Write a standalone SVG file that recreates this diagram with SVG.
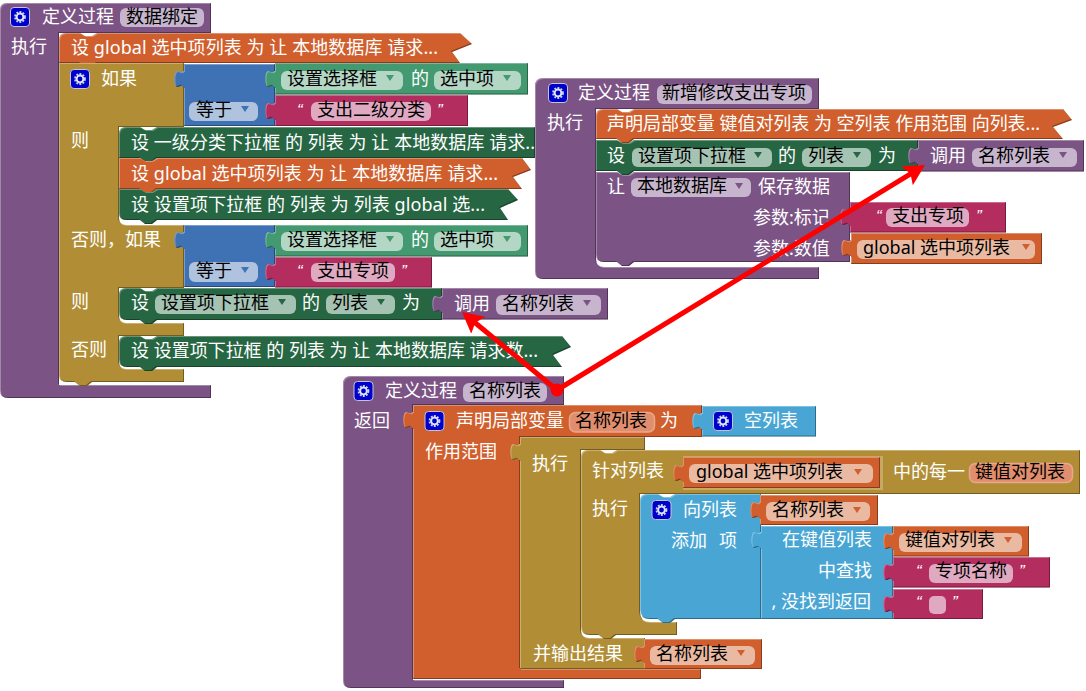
<svg xmlns="http://www.w3.org/2000/svg" xmlns:xlink="http://www.w3.org/1999/xlink" width="1086" height="691" viewBox="0 0 1086 691">
<style>
text{font-family:"Noto Sans","Noto Sans CJK SC",sans-serif;font-size:18px;fill:#fff}
.k{fill:#000}
.q{font-family:"Liberation Sans",sans-serif;font-style:italic;font-size:17px}
.b{filter:url(#bv)}
.pu{fill:#7c5385}.or{fill:#d05f2d}.go{fill:#b18e35}.gn{fill:#266643}.lg{fill:#439970}.bl{fill:#3f71b5}.lb{fill:#49a6d4}.mg{fill:#b32d5e}
.fpu{fill:#c6b5cc}.fgn{fill:#a5c3b2}.flg{fill:#b4d6c5}.for{fill:#e9b9a2}.fmg{fill:#dfa9c1}.fbl{fill:#afc2de}
.fnm{fill:#e08e6d;stroke:#e9a88c;stroke-width:1.5}
.ar{stroke:#f00;stroke-width:5;fill:none}
</style>
<defs>
<filter id="bv" color-interpolation-filters="sRGB" x="-3%" y="-5%" width="106%" height="110%">
<feOffset in="SourceAlpha" dx="1" dy="1" result="a"/>
<feComposite in="SourceAlpha" in2="a" operator="out" result="tl"/>
<feFlood flood-color="#fff" flood-opacity=".3"/>
<feComposite in2="tl" operator="in" result="hi"/>
<feOffset in="SourceAlpha" dx="-1" dy="-1" result="c"/>
<feComposite in="SourceAlpha" in2="c" operator="out" result="br"/>
<feFlood flood-color="#000" flood-opacity=".35"/>
<feComposite in2="br" operator="in" result="lo"/>
<feMerge><feMergeNode in="SourceGraphic"/><feMergeNode in="hi"/><feMergeNode in="lo"/></feMerge>
</filter>
<path id="tab" d="M1,0 L-1,0 C-2,3 -5,0 -7,0 C-10.500,0 -10.500,16 -7,16 C-5,16 -2,13 -1,16 L1,16 Z"/>
<path id="tri" d="M-4,-3 H4 L0,3 Z"/>
<g id="gear">
<rect x="-9.500" y="-9.500" width="19" height="19" rx="3.500" fill="#0000cc" stroke="#c3c3dc" stroke-width="1"/>
<circle r="5" fill="none" stroke="#c8d4f0" stroke-width="1.800" stroke-dasharray="1.900 1.300"/>
<circle r="3.400" fill="none" stroke="#dfe6f7" stroke-width="2"/>
</g>
<marker id="head" markerUnits="userSpaceOnUse" markerWidth="24" markerHeight="24" refX="6" refY="11" orient="auto" viewBox="0 0 24 22">
<path d="M21,11 L0,0 L4,11 L0,22 Z" fill="#f00"/>
</marker>
</defs>

<!-- 定义过程 数据绑定 -->
<g id="proc-data-binding">
<path class="b pu" d="M0,10 Q0,3 7,3 H211 V33 H59 V385 H211 V398 H8 Q0,398 0,390 Z"/>
<use href="#gear" x="20" y="17"/>
<text x="42" y="23">定义过程</text>
<rect class="fpu" x="120" y="8" width="84" height="19" rx="6"/>
<text class="k" x="126" y="23">数据绑定</text>
<text x="11" y="53">执行</text>
</g>
<g id="set-selected-list">
<path class="b or" d="M59,40 Q59,33 66,33 H80 l5,3 h7 l5,-3 H460 L472,44 L452,52 L460,63 H97 l-5,4 h-7 l-5,-4 H59 Z"/>
<text x="71" y="54" textLength="367">设 global 选中项列表 为 让 本地数据库 请求...</text>
</g>
<g id="if-block">
<path class="b go" d="M59,63 H184 V127 H119 V218 Q119,225 126,225 H184 V288 H119 V316 Q119,323 126,323 H184 V336 H119 V362 Q119,369 126,369 H184 V382 H92 l-5,4 h-7 l-5,-4 H67 Q59,382 59,375 Z"/>
<use href="#gear" x="80" y="79"/>
<text x="101" y="85">如果</text>
<text x="71" y="147">则</text>
<text x="71" y="246">否则，如果</text>
<text x="71" y="308">则</text>
<text x="71" y="356">否则</text>
</g>
<g id="compare-1">
<g class="b bl"><rect x="184" y="64" width="91" height="62"/><use href="#tab" x="184" y="71"/></g>
<rect class="fbl" x="189" y="102" width="69" height="19" rx="6"/>
<text class="k" x="196" y="116">等于</text>
<use href="#tri" class="bl" x="245" y="109"/>
</g>
<g id="selector-1">
<g class="b lg"><rect x="275" y="63" width="253" height="31.500"/><use href="#tab" x="275" y="71"/></g>
<rect class="flg" x="281" y="71" width="122" height="19" rx="6"/>
<text class="k" x="287" y="85">设置选择框</text>
<use href="#tri" class="lg" x="390" y="78"/>
<text x="411" y="85">的</text>
<rect class="flg" x="434" y="71" width="87" height="19" rx="6"/>
<text class="k" x="440" y="85">选中项</text>
<use href="#tri" class="lg" x="507" y="78"/>
</g>
<g id="text-1">
<g class="b mg"><rect x="275" y="95" width="193" height="31"/><use href="#tab" x="275" y="103"/></g>
<text class="q" x="297" y="116">“</text>
<rect class="fmg" x="311" y="102" width="120" height="19" rx="6"/>
<text class="k" x="317" y="116">支出二级分类</text>
<text class="q" x="437" y="116">”</text>
</g>
<g id="set-level1">
<path class="b gn" d="M119,134 Q119,127 126,127 H140 l5,3 h7 l5,-3 H535 V158 H157 l-5,4 h-7 l-5,-4 H119 Z"/>
<text x="131" y="149" textLength="404">设 一级分类下拉框 的 列表 为 让 本地数据库 请求..</text>
</g>
<g id="set-selected-2">
<path class="b or" d="M119,158 H140 l5,3 h7 l5,-3 H522 L531,170 L513,177 L522,189 H157 l-5,4 h-7 l-5,-4 H119 Z"/>
<text x="131" y="180" textLength="367">设 global 选中项列表 为 让 本地数据库 请求...</text>
</g>
<g id="set-items-1">
<path class="b gn" d="M119,189 H140 l5,3 h7 l5,-3 H508 L518,200 L500,208 L508,220 H157 l-5,4 h-7 l-5,-4 H126 Q119,220 119,213 Z"/>
<text x="131" y="211" textLength="354">设 设置项下拉框 的 列表 为 列表 global 选...</text>
</g>
<g id="compare-2">
<g class="b bl"><rect x="184" y="225" width="91" height="62"/><use href="#tab" x="184" y="232"/></g>
<rect class="fbl" x="189" y="262" width="69" height="20" rx="6"/>
<text class="k" x="196" y="277">等于</text>
<use href="#tri" class="bl" x="245" y="270"/>
</g>
<g id="selector-2">
<g class="b lg"><rect x="275" y="225" width="253" height="31.500"/><use href="#tab" x="275" y="232"/></g>
<rect class="flg" x="281" y="232" width="122" height="19" rx="6"/>
<text class="k" x="287" y="246">设置选择框</text>
<use href="#tri" class="lg" x="390" y="239"/>
<text x="411" y="246">的</text>
<rect class="flg" x="434" y="232" width="87" height="19" rx="6"/>
<text class="k" x="440" y="246">选中项</text>
<use href="#tri" class="lg" x="507" y="239"/>
</g>
<g id="text-2">
<g class="b mg"><rect x="275" y="257" width="157" height="30.500"/><use href="#tab" x="275" y="264"/></g>
<text class="q" x="297" y="277">“</text>
<rect class="fmg" x="311" y="263" width="84" height="19" rx="6"/>
<text class="k" x="317" y="277">支出专项</text>
<text class="q" x="401" y="277">”</text>
</g>
<g id="set-items-2">
<path class="b gn" d="M119,295 Q119,288 126,288 H140 l5,3 h7 l5,-3 H442 V320 H157 l-5,4 h-7 l-5,-4 H127 Q119,320 119,312 Z"/>
<text x="131" y="309">设</text>
<rect class="fgn" x="155" y="295" width="141" height="19" rx="6"/>
<text class="k" x="161" y="309">设置项下拉框</text>
<use href="#tri" class="gn" x="282" y="302"/>
<text x="302" y="309">的</text>
<rect class="fgn" x="326" y="295" width="69" height="19" rx="6"/>
<text class="k" x="332" y="309">列表</text>
<use href="#tri" class="gn" x="381" y="302"/>
<text x="402" y="309">为</text>
</g>
<g id="call-1">
<g class="b pu"><rect x="442" y="288" width="166" height="31.500"/><use href="#tab" x="442" y="296"/></g>
<text x="454" y="310">调用</text>
<rect class="fpu" x="496" y="295" width="105" height="20" rx="6"/>
<text class="k" x="502" y="310">名称列表</text>
<use href="#tri" class="pu" x="587" y="303"/>
</g>
<g id="set-items-3">
<path class="b gn" d="M119,343 Q119,336 126,336 H140 l5,3 h7 l5,-3 H562 L571,347 L553,355 L562,367 H157 l-5,4 h-7 l-5,-4 H127 Q119,367 119,359 Z"/>
<text x="131" y="357" textLength="407">设 设置项下拉框 的 列表 为 让 本地数据库 请求数...</text>
</g>

<!-- 定义过程 新增修改支出专项 -->
<g id="proc-add-edit">
<path class="b pu" d="M535,86 Q535,78 543,78 H819 V109 H596 V259 Q596,267 604,267 H819 V279 H543 Q535,279 535,271 Z"/>
<use href="#gear" x="558" y="93"/>
<text x="578" y="99">定义过程</text>
<rect class="fpu" x="657" y="85" width="155" height="19" rx="6"/>
<text class="k" x="662" y="99">新增修改支出专项</text>
<text x="547" y="129">执行</text>
</g>
<g id="declare-pairs">
<path class="b or" d="M596,116 Q596,109 603,109 H617 l5,3 h7 l5,-3 H1063 L1072,120 L1053,127 L1063,139 H634 l-5,4 h-7 l-5,-4 H596 Z"/>
<text x="607" y="130" textLength="433">声明局部变量 键值对列表 为 空列表 作用范围 向列表...</text>
</g>
<g id="set-items-4">
<path class="b gn" d="M596,140 H617 l5,3 h7 l5,-3 H918 V171 H634 l-5,4 h-7 l-5,-4 H596 Z"/>
<text x="607" y="162">设</text>
<rect class="fgn" x="632" y="148" width="140" height="19" rx="6"/>
<text class="k" x="638" y="162">设置项下拉框</text>
<use href="#tri" class="gn" x="758" y="155"/>
<text x="778" y="162">的</text>
<rect class="fgn" x="802" y="148" width="69" height="19" rx="6"/>
<text class="k" x="808" y="162">列表</text>
<use href="#tri" class="gn" x="857" y="155"/>
<text x="878" y="162">为</text>
</g>
<g id="call-2">
<g class="b pu"><rect x="918" y="140" width="166" height="31.500"/><use href="#tab" x="918" y="148"/></g>
<text x="930" y="162">调用</text>
<rect class="fpu" x="972" y="148" width="105" height="19" rx="6"/>
<text class="k" x="978" y="162">名称列表</text>
<use href="#tri" class="pu" x="1063" y="155"/>
</g>
<g id="db-save">
<path class="b pu" d="M596,172 H617 l5,3 h7 l5,-3 H850 V262 H634 l-5,4 h-7 l-5,-4 H604 Q596,262 596,254 Z"/>
<text x="607" y="193">让</text>
<rect class="fpu" x="631" y="178" width="120" height="19" rx="6"/>
<text class="k" x="637" y="192">本地数据库</text>
<use href="#tri" class="pu" x="739" y="186"/>
<text x="758" y="193">保存数据</text>
<text x="753" y="224">参数:标记</text>
<text x="753" y="255">参数:数值</text>
</g>
<g id="text-3">
<g class="b mg"><rect x="850" y="202" width="156" height="30.500"/><use href="#tab" x="850" y="209"/></g>
<text class="q" x="876" y="222">“</text>
<rect class="fmg" x="886" y="208" width="83" height="19" rx="6"/>
<text class="k" x="892" y="222">支出专项</text>
<text class="q" x="976" y="222">”</text>
</g>
<g id="get-selected-1">
<g class="b or"><rect x="851" y="233" width="191" height="31"/><use href="#tab" x="851" y="240"/></g>
<rect class="for" x="857" y="240" width="178" height="19" rx="6"/>
<text class="k" x="863" y="254">global 选中项列表</text>
<use href="#tri" class="or" x="1026" y="247"/>
</g>

<!-- 定义过程 名称列表 -->
<g id="proc-name-list">
<path class="b pu" d="M343,384 Q343,376 351,376 H564 V405 H413 V680 H564 V688 H351 Q343,688 343,680 Z"/>
<use href="#gear" x="363.500" y="391"/>
<text x="385" y="397">定义过程</text>
<rect class="fpu" x="463" y="383" width="84" height="19" rx="6"/>
<text class="k" x="469" y="397">名称列表</text>
<text x="354" y="427">返回</text>
</g>
<g id="declare-names">
<g class="b or"><path d="M413,405 H702 V437 H520 V669 H701 V679 H413 Z"/><use href="#tab" x="413" y="412"/></g>
<use href="#gear" x="434.500" y="421"/>
<text x="456" y="427">声明局部变量</text>
<rect class="fnm" x="569.500" y="412.500" width="85" height="19.500" rx="6"/>
<text class="k" x="575" y="427">名称列表</text>
<text x="660" y="427">为</text>
<text x="425" y="458">作用范围</text>
</g>
<g id="empty-list">
<g class="b lb"><rect x="702" y="406" width="114" height="30.500"/><use href="#tab" x="702" y="413"/></g>
<use href="#gear" x="723" y="421"/>
<text x="744" y="427">空列表</text>
</g>
<g id="do-result">
<g class="b go"><path d="M520,437 H645 V450 H581 V630 Q581,638 589,638 H645 V669 H520 Z"/><use href="#tab" x="520" y="444"/></g>
<text x="532" y="470">执行</text>
<text x="533" y="660">并输出结果</text>
</g>
<g id="for-each">
<path class="b go" d="M581,457 Q581,450 588,450 H600 l5,3 h7 l5,-3 H1080 V494 H640 V612 Q640,622 650,622 H677 V635 H616 l-5,4 h-7 l-5,-4 H590 Q581,635 581,626 Z"/>
<text x="592" y="477">针对列表</text>
<text x="592" y="515">执行</text>
<text x="893" y="478">中的每一</text>
<rect class="fnm" x="969.500" y="463.500" width="103" height="19" rx="6"/>
<text class="k" x="975" y="478">键值对列表</text>
</g>
<g id="get-selected-2">
<rect x="683" y="456" width="200" height="34" fill="#c6aa62"/>
<g class="b or"><rect x="683" y="457" width="197" height="31"/><use href="#tab" x="683" y="465"/></g>
<rect class="for" x="689" y="464" width="184" height="19" rx="6"/>
<text class="k" x="696" y="478">global 选中项列表</text>
<use href="#tri" class="or" x="858" y="472"/>
</g>
<g id="add-item">
<path class="b lb" d="M640,501 Q640,494 647,494 H658 l5,3 h7 l5,-3 H761 V619 H675 l-5,4 h-7 l-5,-4 H650 Q640,619 640,609 Z"/>
<use href="#gear" x="661.500" y="510"/>
<text x="683" y="516">向列表</text>
<text x="671" y="547">添加<tspan x="719">项</tspan></text>
</g>
<g id="get-names">
<g class="b or"><rect x="760" y="495" width="118" height="30"/><use href="#tab" x="760" y="502"/></g>
<rect class="for" x="766" y="502" width="104" height="19" rx="6"/>
<text class="k" x="772" y="516">名称列表</text>
<use href="#tri" class="or" x="857" y="510"/>
</g>
<g id="lookup">
<g class="b lb"><rect x="761" y="526" width="132" height="93"/><use href="#tab" x="761" y="532"/></g>
<text x="782" y="546">在键值列表</text>
<text x="818" y="577">中查找</text>
<text x="871" y="608" text-anchor="end">, 没找到返回</text>
</g>
<g id="get-pair">
<g class="b or"><rect x="893" y="526" width="136" height="30.500"/><use href="#tab" x="893" y="533"/></g>
<rect class="for" x="899" y="533" width="123" height="19" rx="6"/>
<text class="k" x="905" y="546">键值对列表</text>
<use href="#tri" class="or" x="1008" y="540"/>
</g>
<g id="text-4">
<g class="b mg"><rect x="893" y="557" width="157" height="30.500"/><use href="#tab" x="893" y="564"/></g>
<text class="q" x="916" y="577">“</text>
<rect class="fmg" x="929" y="564" width="84" height="19" rx="6"/>
<text class="k" x="935" y="577">专项名称</text>
<text class="q" x="1019" y="577">”</text>
</g>
<g id="text-5">
<g class="b mg"><rect x="893" y="589" width="90" height="30"/><use href="#tab" x="893" y="596"/></g>
<text class="q" x="916" y="608">“</text>
<rect class="fmg" x="929" y="596" width="17" height="18" rx="5"/>
<text class="q" x="952" y="608">”</text>
</g>
<g id="get-names-2">
<g class="b or"><rect x="644" y="639" width="118" height="30"/><use href="#tab" x="644" y="646"/></g>
<rect class="for" x="650" y="646" width="105" height="19" rx="6"/>
<text class="k" x="656" y="660">名称列表</text>
<use href="#tri" class="or" x="741" y="653"/>
</g>

<g id="connectors">
<line class="ar" x1="557" y1="390" x2="473.600" y2="321.500" marker-end="url(#head)"/>
<line class="ar" x1="557" y1="390" x2="912.200" y2="172.800" marker-end="url(#head)"/>
<circle cx="557" cy="390" r="6.500" fill="#f00"/>
</g>
</svg>
